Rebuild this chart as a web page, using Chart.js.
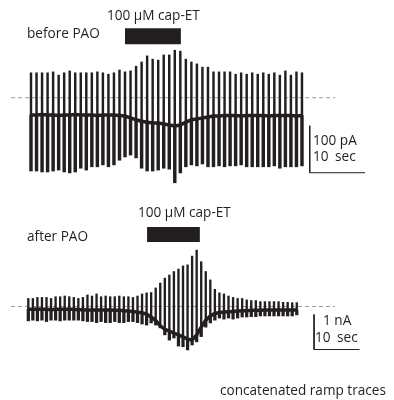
<!DOCTYPE html>
<html><head><meta charset="utf-8">
<script src="https://cdn.jsdelivr.net/npm/chart.js@4"></script>
<style>
html,body{margin:0;padding:0;background:#fff;}
#wrap{position:relative;width:394px;height:400px;overflow:hidden;font-family:"Open Sans",sans-serif;color:#231f20;}
canvas{position:absolute;left:0;}
.t{position:absolute;white-space:nowrap;font-size:13.6px;line-height:13.6px;}
</style></head><body>
<div id="wrap">
<canvas id="topTrace" width="394" height="195" style="top:0"></canvas>
<canvas id="botTrace" width="394" height="205" style="top:195px"></canvas>
</div>
<script>
// ---- data: one value per concatenated ramp sweep (1 sweep per second) ----
// before PAO, currents in pA
const topPeak = [53,53,53,53,55,48,53,57,53,53, 53,53,55,53,50,53,59,55,57,67,
                 76,89,82,80,91,91,101,99,82,76, 72,65,65,55,55,55,55,50,53,50,
                 53,50,53,50,53,48,57,48,55,53];
const topTrough = [-156,-156,-158,-158,-156,-154,-158,-160,-158,-150,
                   -154,-147,-147,-143,-147,-143,-133,-126,-122,-128,
                   -150,-156,-156,-154,-150,-152,-181,-160,-147,-143,
                   -145,-141,-147,-147,-145,-147,-145,-145,-143,-147,
                   -147,-147,-147,-147,-145,-150,-147,-147,-147,-145];
const topHolding = [-37,-37,-36,-37,-37,-38,-37,-37,-36,-37,
                    -37,-37,-38,-37,-37,-37,-38,-39,-43,-47,
                    -50,-52,-54,-54,-56,-58,-60,-58,-52,-47,
                    -45,-43,-41,-39,-39,-38,-38,-38,-39,-38,
                    -38,-38,-38,-39,-38,-38,-38,-38,-39,-38];
// after PAO, currents in nA
const botPeak = [0.23,0.23,0.26,0.26,0.26,0.23,0.28,0.28,0.30,0.28,
                 0.26,0.23,0.26,0.33,0.30,0.36,0.28,0.30,0.28,0.28,
                 0.30,0.28,0.28,0.26,0.30,0.36,0.39,0.40,0.53,0.67,
                 0.81,0.90,1.00,1.07,1.16,1.19,1.44,1.61,1.28,1.00,
                 0.76,0.49,0.39,0.36,0.30,0.26,0.23,0.23,0.19,0.17,
                 0.17,0.14,0.14,0.14,0.14,0.14,0.12,0.12,0.11,0.11];
const botTrough = [-0.41,-0.39,-0.41,-0.39,-0.43,-0.39,-0.39,-0.41,-0.39,-0.39,
                   -0.39,-0.39,-0.41,-0.43,-0.43,-0.46,-0.43,-0.46,-0.46,-0.43,
                   -0.46,-0.46,-0.43,-0.43,-0.46,-0.50,-0.53,-0.47,-0.53,-0.61,
                   -0.81,-0.96,-0.90,-1.13,-1.15,-1.24,-1.10,-1.01,-0.86,-0.59,
                   -0.47,-0.39,-0.33,-0.36,-0.33,-0.36,-0.33,-0.30,-0.30,-0.29,
                   -0.29,-0.27,-0.27,-0.27,-0.27,-0.27,-0.27,-0.27,-0.27,-0.24];
const botHolding = [-0.08,-0.08,-0.07,-0.08,-0.08,-0.09,-0.08,-0.08,-0.08,-0.08,
                    -0.08,-0.09,-0.09,-0.10,-0.10,-0.10,-0.10,-0.10,-0.10,-0.11,
                    -0.11,-0.12,-0.13,-0.14,-0.16,-0.18,-0.22,-0.30,-0.40,-0.55,
                    -0.65,-0.70,-0.76,-0.81,-0.87,-0.93,-0.96,-0.81,-0.59,-0.39,
                    -0.27,-0.20,-0.17,-0.16,-0.15,-0.14,-0.13,-0.12,-0.12,-0.11,
                    -0.11,-0.11,-0.10,-0.10,-0.10,-0.10,-0.10,-0.10,-0.10,-0.10];
// drug application (s)
const topDrug = [17.0, 27.1];
const botDrug = [26.1, 37.7];
// scale bars
const topScaleBar = {amp: 100, time: 10};   // pA, s
const botScaleBar = {amp: 1, time: 10};     // nA, s
const sweepInterval = 1; // s

const INK = '#231f20';

function traceSets(peak, trough, hold, thinW, thickW, lineW) {
  return [
    {type:'bar', data: peak.map((v,i)=>({x:i*sweepInterval, y:[hold[i], v]})),
     backgroundColor: INK, barThickness: thinW, grouped:false, order:3},
    {type:'bar', data: trough.map((v,i)=>({x:i*sweepInterval, y:[v, hold[i]]})),
     backgroundColor: INK, barThickness: thickW, grouped:false, order:3},
    {type:'line', data: hold.map((v,i)=>({x:i*sweepInterval, y:v})),
     borderColor: INK, borderWidth: lineW, pointRadius:0, tension:0, order:1}
  ];
}
function zeroLine(x0, x1) {
  return {type:'line', data:[{x:x0,y:0},{x:x1,y:0}], borderColor:'#9d9d9d', borderWidth:1,
          borderDash:[4,3], pointRadius:0, order:9};
}
function drugBar(d, y, w) {
  return {type:'line', data:[{x:d[0],y:y},{x:d[1],y:y}], borderColor:INK, borderWidth:w,
          borderCapStyle:'butt', pointRadius:0, order:0};
}
function scaleBar(x0, y0, sb) {
  return {type:'line', data:[{x:x0,y:y0+sb.amp},{x:x0,y:y0},{x:x0+sb.time,y:y0}],
          borderColor:INK, borderWidth:1, pointRadius:0, order:0};
}
function makeChart(id, datasets, xr, yr) {
  return new Chart(document.getElementById(id), {
    type:'bar',
    data:{datasets},
    options:{
      responsive:false, animation:false, devicePixelRatio:1,
      layout:{padding:0},
      plugins:{legend:{display:false}, tooltip:{enabled:false}},
      scales:{
        x:{type:'linear', min:xr[0], max:xr[1], display:false, offset:false},
        y:{type:'linear', min:yr[0], max:yr[1], display:false}
      }
    }
  });
}

makeChart('topTrace', [
  ...traceSets(topPeak, topTrough, topHolding, 1.8, 2.8, 3.5),
  zeroLine(-3.6, 55),
  drugBar(topDrug, 131, 16),
  scaleBar(50.4, -159.6, topScaleBar)
], [-5.606, 65.64], [-207.0, 207.9]);

makeChart('botTrace', [
  ...traceSets(botPeak, botTrough, botHolding, 1.7, 2.6, 3.5),
  zeroLine(-3.8, 67.4),
  drugBar(botDrug, 2.06, 15),
  scaleBar(62.8, -1.229, botScaleBar)
], [-6.22, 80.37], [-2.671, 3.186]);

// ---- text labels ----
const labels = [
  ['100 \u00b5M cap-ET', 107, 20],
  ['before PAO', 27, 38.3],
  ['100 pA', 313, 145],
  ['10 sec', 313, 161],
  ['100 \u00b5M cap-ET', 138, 217],
  ['after PAO', 27, 241.5],
  ['1 nA', 323, 325],
  ['10 sec', 315, 342],
  ['concatenated ramp traces', 220, 395]
];
const wrap = document.getElementById('wrap');
const FS = 13.6;
labels.forEach(([s, x, base]) => {
  const d = document.createElement('div');
  d.className = 't';
  d.textContent = s;
  d.style.left = x + 'px';
  d.style.top = (base - 0.888*FS) + 'px';
  if (s === '10 sec') d.style.wordSpacing = '3px';
  wrap.appendChild(d);
});
</script>
</body></html>
